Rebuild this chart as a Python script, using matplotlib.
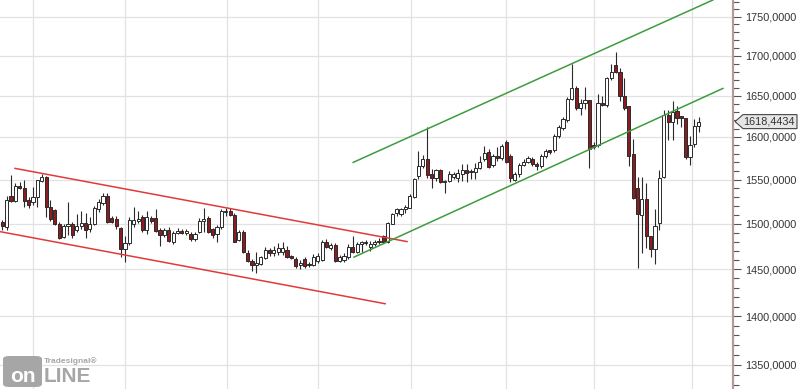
import matplotlib as mpl
mpl.use('Agg')
import numpy as np
import matplotlib.pyplot as plt
from matplotlib.patches import Polygon, FancyBboxPatch
from matplotlib.ticker import FixedLocator, FuncFormatter, NullFormatter
from matplotlib.transforms import IdentityTransform

plt.rcParams['font.family'] = ['Liberation Sans', 'DejaVu Sans']

# daily candles (open, high, low, close)
opens = [1502, 1496, 1531, 1526, 1543, 1540, 1527, 1524, 1530, 1548,
         1553, 1519, 1515, 1499, 1485, 1497, 1499, 1493, 1497, 1501,
         1494, 1499, 1516, 1523, 1531, 1506, 1505, 1495, 1472, 1478,
         1500, 1503, 1507, 1493, 1506, 1506, 1493, 1487, 1493, 1479,
         1490, 1492, 1490, 1488, 1483, 1491, 1503, 1506, 1494, 1488,
         1496, 1513, 1514, 1510, 1482, 1491, 1468, 1459, 1454, 1456,
         1462, 1471, 1467, 1469, 1469, 1471, 1464, 1461, 1454, 1461,
         1456, 1454, 1459, 1460, 1479, 1473, 1476, 1459, 1460, 1463,
         1474, 1469, 1477, 1478, 1474, 1477, 1479, 1486, 1479, 1500,
         1512, 1511, 1516, 1518, 1530, 1554, 1566, 1574, 1556, 1552,
         1561, 1547, 1548, 1553, 1552, 1557, 1561, 1559, 1559, 1563,
         1574, 1582, 1567, 1577, 1575, 1594, 1577, 1550, 1556, 1567,
         1571, 1574, 1568, 1566, 1577, 1584, 1584, 1601, 1611, 1620,
         1646, 1660, 1635, 1641, 1645, 1590, 1590, 1641, 1639, 1672,
         1688, 1680, 1650, 1637, 1580, 1540, 1510, 1528, 1486, 1472,
         1501, 1553, 1626, 1618, 1631, 1625, 1623, 1576, 1592, 1613]
highs = [1504, 1531, 1555, 1546, 1547, 1549, 1530, 1541, 1550, 1557,
         1554, 1527, 1516, 1502, 1499, 1524, 1502, 1511, 1514, 1512,
         1507, 1520, 1528, 1535, 1535, 1509, 1508, 1496, 1486, 1507,
         1519, 1514, 1510, 1514, 1509, 1516, 1495, 1495, 1496, 1492,
         1495, 1494, 1494, 1491, 1491, 1506, 1518, 1508, 1495, 1498,
         1516, 1518, 1518, 1512, 1493, 1493, 1471, 1461, 1469, 1464,
         1474, 1473, 1475, 1478, 1480, 1475, 1465, 1463, 1460, 1463,
         1458, 1466, 1468, 1482, 1483, 1478, 1478, 1465, 1467, 1477,
         1486, 1479, 1481, 1482, 1481, 1482, 1484, 1487, 1502, 1512,
         1518, 1518, 1521, 1533, 1552, 1583, 1579, 1612, 1562, 1562,
         1562, 1550, 1560, 1559, 1562, 1568, 1568, 1562, 1569, 1577,
         1589, 1586, 1580, 1588, 1592, 1596, 1580, 1559, 1569, 1574,
         1578, 1576, 1570, 1580, 1586, 1585, 1604, 1614, 1624, 1649,
         1690, 1662, 1646, 1661, 1645, 1594, 1652, 1650, 1673, 1690,
         1704, 1684, 1672, 1637, 1598, 1553, 1553, 1546, 1486, 1516,
         1561, 1633, 1633, 1644, 1637, 1625, 1623, 1601, 1622, 1624]
lows = [1493, 1493, 1524, 1524, 1539, 1519, 1517, 1521, 1519, 1547,
        1507, 1503, 1498, 1483, 1484, 1487, 1484, 1491, 1494, 1484,
        1491, 1498, 1513, 1521, 1501, 1501, 1494, 1463, 1458, 1476,
        1496, 1501, 1491, 1488, 1501, 1491, 1475, 1485, 1479, 1477,
        1488, 1488, 1487, 1481, 1481, 1489, 1491, 1489, 1484, 1480,
        1494, 1509, 1508, 1479, 1481, 1468, 1458, 1448, 1446, 1454,
        1461, 1464, 1464, 1465, 1465, 1462, 1461, 1451, 1450, 1451,
        1452, 1453, 1457, 1459, 1473, 1471, 1458, 1458, 1458, 1461,
        1467, 1467, 1469, 1476, 1470, 1475, 1477, 1478, 1478, 1499,
        1509, 1508, 1512, 1517, 1529, 1551, 1563, 1552, 1540, 1548,
        1546, 1535, 1547, 1551, 1547, 1548, 1547, 1551, 1551, 1562,
        1572, 1563, 1565, 1572, 1573, 1569, 1547, 1548, 1553, 1566,
        1569, 1566, 1561, 1564, 1575, 1580, 1582, 1599, 1608, 1618,
        1645, 1633, 1626, 1634, 1563, 1586, 1588, 1637, 1636, 1669,
        1678, 1643, 1633, 1566, 1528, 1451, 1468, 1473, 1463, 1455,
        1493, 1552, 1597, 1597, 1616, 1612, 1574, 1567, 1588, 1606]
closes = [1497, 1527, 1526, 1543, 1540, 1526, 1521, 1530, 1549, 1553,
          1519, 1505, 1499, 1484, 1497, 1499, 1487, 1497, 1501, 1493,
          1499, 1517, 1524, 1531, 1502, 1502, 1497, 1472, 1478, 1504,
          1504, 1505, 1493, 1507, 1503, 1492, 1487, 1493, 1481, 1490,
          1492, 1490, 1492, 1483, 1488, 1503, 1505, 1491, 1487, 1496,
          1514, 1514, 1510, 1480, 1491, 1469, 1459, 1454, 1457, 1463,
          1471, 1467, 1471, 1473, 1473, 1463, 1462, 1453, 1457, 1453,
          1454, 1463, 1464, 1479, 1474, 1476, 1459, 1463, 1464, 1474,
          1469, 1477, 1479, 1479, 1477, 1480, 1481, 1479, 1501, 1511,
          1516, 1516, 1519, 1531, 1551, 1566, 1574, 1555, 1552, 1561,
          1547, 1548, 1556, 1556, 1558, 1561, 1558, 1560, 1564, 1571,
          1581, 1565, 1577, 1575, 1589, 1571, 1552, 1556, 1567, 1571,
          1575, 1568, 1566, 1577, 1583, 1582, 1601, 1612, 1621, 1646,
          1660, 1635, 1641, 1645, 1586, 1588, 1641, 1638, 1672, 1680,
          1680, 1650, 1635, 1577, 1529, 1511, 1528, 1486, 1472, 1497,
          1552, 1626, 1618, 1630, 1623, 1623, 1576, 1590, 1613, 1618.4434]

# trend channels: (start bar, start price, end bar, end price)
red_upper = (2.9, 1563, 92.4, 1480)
red_lower = (-0.5, 1491, 87.4, 1413)
green_upper = (80.1, 1570, 162.2, 1772)
green_lower = (80.3, 1463, 164.5, 1659)

month_starts = [7.0, 28.0, 51.3, 72.1, 93.3, 115.0, 135.1, 157.5]
y_major = list(range(1350, 1751, 50))
last_price = closes[-1]

fig = plt.figure(figsize=(8, 3.89), dpi=100)
ax = fig.add_axes([0, 0, 733 / 800, 1])
ax.set_yscale('log')

n = len(closes)
x = np.arange(n)
o = np.array(opens, float)
h = np.array(highs, float)
l = np.array(lows, float)
c = np.array(closes, float)
up = c >= o

edge = '#2a2a2a'
ax.vlines(x, l, h, color=edge, lw=0.8, zorder=3)
body_lo = np.minimum(o, c)
body_h = np.maximum(np.abs(c - o), 1.0)
ax.bar(x[up], body_h[up], bottom=body_lo[up], width=0.72,
       color='white', edgecolor=edge, lw=0.7, zorder=4)
ax.bar(x[~up], body_h[~up], bottom=body_lo[~up], width=0.72,
       color='#8e1b1f', edgecolor=edge, lw=0.7, zorder=4)

for seg, col in [(red_upper, '#e23a3a'), (red_lower, '#e23a3a'),
                 (green_upper, '#3f9b3f'), (green_lower, '#3f9b3f')]:
    ax.plot([seg[0], seg[2]], [seg[1], seg[3]], color=col, lw=1.1, zorder=5)

ax.set_xlim(-0.525, 166.8)
ax.set_ylim(1326, 1772)

ax.yaxis.set_major_locator(FixedLocator(y_major))
ax.yaxis.set_minor_locator(FixedLocator([v for v in range(1330, 1771, 10) if v % 50]))
ax.yaxis.set_major_formatter(FuncFormatter(lambda v, p: f"{v:.4f}".replace('.', ',')))
ax.yaxis.set_minor_formatter(NullFormatter())
ax.yaxis.tick_right()
ax.tick_params(axis='y', which='major', direction='out', length=6, width=0.8,
               color='#555555', labelsize=7.8, labelcolor='#333333', pad=3)
ax.tick_params(axis='y', which='minor', direction='out', length=4, width=0.8,
               color='#555555')
ax.set_xticks(month_starts)
ax.tick_params(axis='x', length=0, labelbottom=False)
ax.grid(True, which='major', color='#e2e2e2', lw=0.9, zorder=0)
for s in ['top', 'left', 'bottom']:
    ax.spines[s].set_visible(False)
ax.spines['right'].set_color('#b39b9b')
ax.spines['right'].set_linewidth(1.6)

# last price tag
fig.canvas.draw()
_, py = ax.transData.transform((0, last_price))
x0 = 733 + 2
tag = Polygon([(x0, py), (x0 + 8, py + 7), (x0 + 62, py + 7),
               (x0 + 62, py - 7), (x0 + 8, py - 7)], closed=True,
              transform=IdentityTransform(), facecolor='#e6e6e6',
              edgecolor='#444444', lw=0.8, clip_on=False, zorder=10)
fig.patches.append(tag)
fig.text((x0 + 8) / 800, py / 389, f"{last_price:.4f}".replace('.', ','),
         fontsize=7.8, color='#333333', va='center', ha='left', zorder=11)

# watermark
logo = FancyBboxPatch((3 / 800, 2 / 389), 39 / 800, 31 / 389,
                      boxstyle='round,pad=0,rounding_size=0.008',
                      transform=fig.transFigure, facecolor='#a6a6a6',
                      edgecolor='none', zorder=1)
fig.patches.append(logo)
fig.text(23 / 800, 12 / 389, 'on', fontsize=15, fontweight='bold',
         color='white', ha='center', va='center')
fig.text(44 / 800, 12 / 389, 'LINE', fontsize=15, fontweight='bold',
         color='#a6a6a6', ha='left', va='center')
fig.text(44 / 800, 28 / 389, 'Tradesignal\u00ae', fontsize=6,
         fontweight='bold', color='#a6a6a6', ha='left', va='center')

fig.savefig('out.png', dpi=100)
plt.close()
